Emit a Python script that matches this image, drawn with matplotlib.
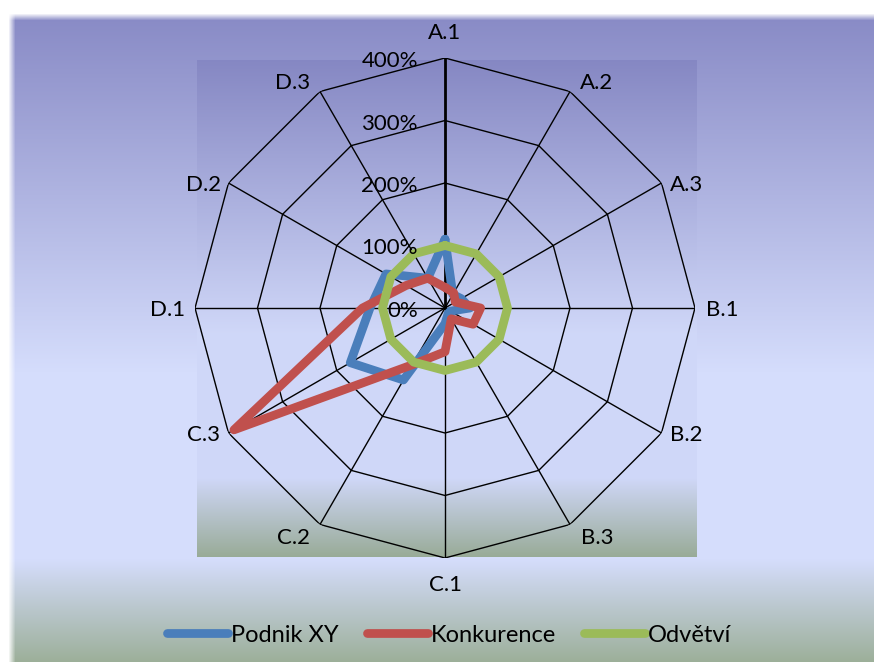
import numpy as np
import matplotlib
matplotlib.use("Agg")
import matplotlib.pyplot as plt

plt.rcParams['font.family'] = ['Lato', 'DejaVu Sans']

# ---- data -------------------------------------------------------------
categories = ["A.1", "A.2", "A.3", "B.1", "B.2", "B.3",
              "C.1", "C.2", "C.3", "D.1", "D.2", "D.3"]
podnik_xy = [110, 25, 30, 40, 10, 10, 25, 133, 175, 120, 109, 55]
konkurence = [33, 28, 19, 57, 52, 20, 70, 105, 390, 132, 72, 55]
odvetvi = [100, 100, 100, 100, 100, 100, 100, 100, 100, 100, 100, 100]
series_names = ["Podnik XY", "Konkurence", "Odvětví"]
radial_ticks = [0, 100, 200, 300, 400]
radial_labels = ["0%", "100%", "200%", "300%", "400%"]

colors = ["#4a7ebb", "#c0504d", "#9bbb59"]

# ---- figure & background ---------------------------------------------
W, H = 874, 662
fig = plt.figure(figsize=(W / 100, H / 100), dpi=100)

stops_f = [0.0, 0.55, 0.84, 1.0]
stops_c = np.array([[137, 139, 198],
                    [213, 221, 252],
                    [213, 221, 252],
                    [156, 175, 153]], dtype=float) / 255.0


def grad(frac):
    return np.stack([np.interp(frac, stops_f, stops_c[:, k]) for k in range(3)], axis=-1)


img = np.ones((H, W, 4))
yy, xx = np.mgrid[0:H, 0:W]
# chart area with soft left/top edge
top, left = 17, 12
f = np.clip((yy - top) / (H - top), 0, 1)
col = grad(f)
alpha = np.clip((xx - (left - 4)) / 7.0, 0, 1) * np.clip((yy - (top - 4)) / 7.0, 0, 1)
img[..., :3] = col * alpha[..., None] + (1 - alpha[..., None])
# plot area
px0, px1, py0, py1 = 197, 697, 60, 557
fp = np.clip((yy - py0) / (py1 - py0), 0, 1)
inside = (xx >= px0) & (xx < px1) & (yy >= py0) & (yy < py1)
pcol = grad(fp) * np.array([0.975, 0.975, 0.985])
img[inside, :3] = pcol[inside]

bg = fig.add_axes([0, 0, 1, 1], zorder=0)
bg.imshow(img, extent=[0, W, H, 0], aspect='auto', interpolation='bilinear')
bg.set_xlim(0, W)
bg.set_ylim(H, 0)
bg.axis('off')

# ---- radar axes -------------------------------------------------------
cx, cy, R = 445, 308, 250
ax = fig.add_axes([(cx - R) / W, (H - cy - R) / H, 2 * R / W, 2 * R / H],
                  projection='polar', zorder=1)
ax.set_facecolor('none')
ax.set_theta_zero_location('N')
ax.set_theta_direction(-1)
ax.set_ylim(0, 400)
ax.grid(False)
ax.set_xticks([])
ax.set_yticks([])
ax.spines['polar'].set_visible(False)

n = len(categories)
angles = np.arange(n) * 2 * np.pi / n
closed = np.append(angles, angles[0])

# polygon rings
for r in radial_ticks[1:]:
    ax.plot(closed, [r] * (n + 1), color='black', lw=1.0, zorder=2)
# spokes
for i, a in enumerate(angles):
    ax.plot([a, a], [0, radial_ticks[-1]], color='black',
            lw=2.0 if i == 0 else 1.0, zorder=2)

# series
for vals, name, c, z in zip([podnik_xy, konkurence, odvetvi], series_names, colors, [3, 4, 5]):
    v = np.append(vals, vals[0])
    ax.plot(closed, v, color=c, lw=6.3, label=name, zorder=z,
            solid_joinstyle='round', solid_capstyle='round')

# category labels
label_offsets = {
    "A.1": (0, 25), "A.2": (27, 8), "A.3": (25, -2), "B.1": (27, -2),
    "B.2": (25, -2), "B.3": (27, -13), "C.1": (0, -27), "C.2": (-27, -13),
    "C.3": (-25, -2), "D.1": (-27, -2), "D.2": (-25, -2), "D.3": (-27, 8),
}
for a, lab in zip(angles, categories):
    dx, dy = label_offsets[lab]
    ax.annotate(lab, xy=(a, radial_ticks[-1]), xytext=(dx, dy),
                textcoords='offset pixels', ha='center', va='center',
                fontsize=16, color='black', annotation_clip=False)

# radial value labels along A.1 axis
for r, lab in zip(radial_ticks, radial_labels):
    ax.annotate(lab, xy=(0, r), xytext=(-27, -3), textcoords='offset pixels',
                ha='right', va='center', fontsize=16, color='black',
                annotation_clip=False, zorder=6)

# legend
fig.legend(loc='center', bbox_to_anchor=(449 / W, 1 - 635 / H), ncol=3,
           frameon=False, fontsize=17, handlelength=2.6, handletextpad=0.1,
           columnspacing=1.2)

fig.savefig("out.png", dpi=100)
